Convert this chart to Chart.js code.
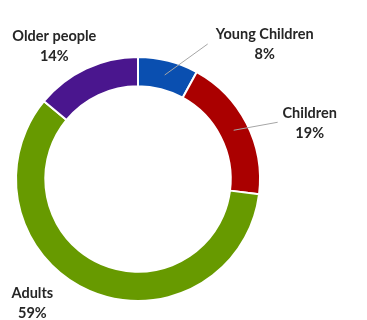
<!DOCTYPE html>
<html lang="en">
<head>
<meta charset="UTF-8">
<title>Population groups</title>
<script src="https://cdn.jsdelivr.net/npm/chart.js"></script>
<style>
    html, body { margin: 0; padding: 0; background: #fff; }
    #wrap { width: 367px; height: 320px; }
</style>
</head>
<body>
<div id="wrap"><canvas id="myChart" width="367" height="320"></canvas></div>

<script>
    const labels = ['Young Children', 'Children', 'Adults', 'Older people'];
    const values = [8, 19, 59, 14];
    const colors = ['#0a4fb0', '#aa0000', '#679a00', '#4a168e'];

    // where each label sits, relative to the middle of its slice
    const labelOffsets = [[100, -41], [76, -17], [-63, 16], [-38, -46]];
    const leaderLines = [true, true, false, false];

    const sliceLabels = {
        id: 'sliceLabels',
        afterDatasetsDraw(chart) {
            const ctx = chart.ctx;
            const arcs = chart.getDatasetMeta(0).data;
            const total = values.reduce((a, b) => a + b, 0);
            ctx.save();
            arcs.forEach((arc, i) => {
                const p = arc.getProps(['x', 'y', 'startAngle', 'endAngle', 'innerRadius', 'outerRadius'], true);
                const mid = (p.startAngle + p.endAngle) / 2;
                const r = (p.innerRadius + p.outerRadius) / 2;
                const ax = p.x + Math.cos(mid) * r;
                const ay = p.y + Math.sin(mid) * r;
                const lx = ax + labelOffsets[i][0];
                const ly = ay + labelOffsets[i][1];

                if (leaderLines[i]) {
                    ctx.strokeStyle = '#a6a6a6';
                    ctx.lineWidth = 1;
                    ctx.beginPath();
                    ctx.moveTo(ax, ay);
                    ctx.lineTo(lx - (i == 0 ? 57 : 32), ly + (i == 0 ? 10 : 9));
                    ctx.stroke();
                }

                ctx.fillStyle = '#262626';
                ctx.font = 'bold 14.5px Lato';
                ctx.textAlign = 'center';
                ctx.textBaseline = 'middle';
                ctx.fillText(labels[i], lx, ly);
                ctx.fillText(Math.round(values[i] / total * 100) + '%', lx, ly + 20);
            });
            ctx.restore();
        }
    };

    const myChart = new Chart(document.getElementById('myChart'), {
        type: 'doughnut',
        data: {
            labels: labels,
            datasets: [{
                data: values,
                backgroundColor: colors,
                borderColor: '#fff',
                borderWidth: 2
            }]
        },
        options: {
            responsive: false,
            animation: false,
            cutout: '76%',
            layout: { padding: { top: 56, bottom: 18, left: 15, right: 106 } },
            plugins: {
                legend: { display: false },
                tooltip: { enabled: false }
            }
        },
        plugins: [sliceLabels]
    });
</script>
</body>
</html>
